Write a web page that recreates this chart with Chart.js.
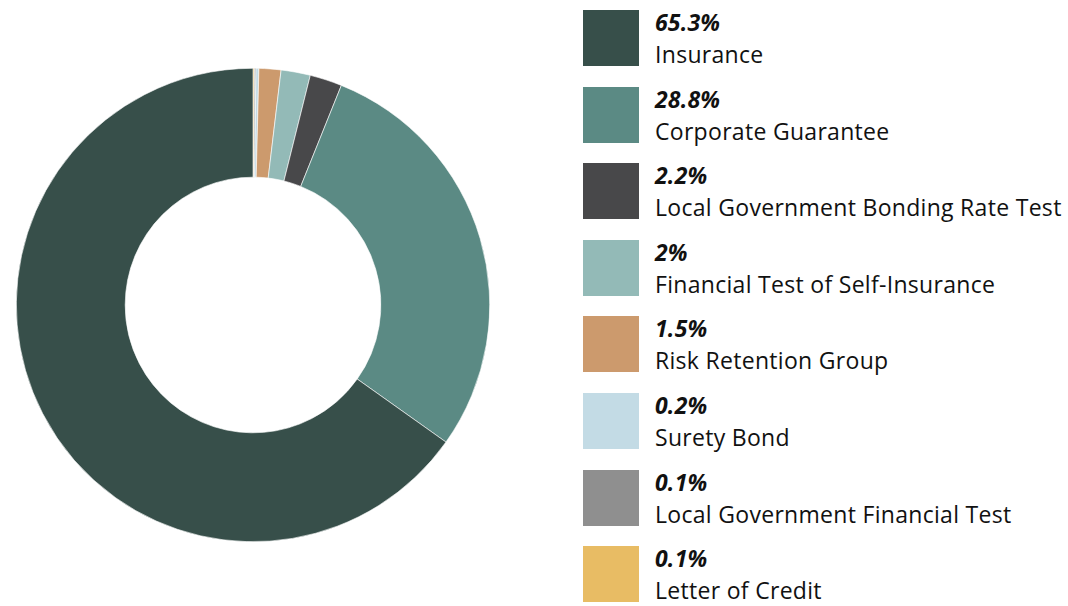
<!DOCTYPE html>
<html>
<head>
<meta charset="utf-8">
<script src="https://cdn.jsdelivr.net/npm/chart.js@4"></script>
<style>
  html, body { margin: 0; padding: 0; background: #fff; }
  body { width: 1068px; height: 606px; position: relative; overflow: hidden; font-family: "Open Sans", sans-serif; }
  #chartBox { position: absolute; left: 16px; top: 68px; width: 474px; height: 474px; }
  #legend { position: absolute; left: 583px; top: 10px; }
  .item { position: absolute; left: 0; width: 480px; height: 56px; }
  .swatch { position: absolute; left: 0; top: 0; width: 56px; height: 56px; }
  .pct { position: absolute; left: 72px; top: -4px; font-size: 23px; font-weight: bold; font-style: italic; color: #111; white-space: nowrap; letter-spacing: 0.2px; }
  .name { position: absolute; left: 72px; top: 28px; font-size: 23px; color: #111; white-space: nowrap; letter-spacing: 0.3px; }
</style>
</head>
<body>
<div id="chartBox"><canvas id="mix"></canvas></div>
<div id="legend"></div>
<script>
// slice order goes clockwise from 12 o'clock
let labels = [
    "Letter of Credit",
    "Local Government Financial Test",
    "Surety Bond",
    "Risk Retention Group",
    "Financial Test of Self-Insurance",
    "Local Government Bonding Rate Test",
    "Corporate Guarantee",
    "Insurance"
];
let shares = [0.1, 0.1, 0.2, 1.5, 2, 2.2, 28.8, 65.3];
let colors = [
    "#e8bc64",
    "#8f8f8f",
    "#c3dbe5",
    "#cc9a6d",
    "#93bab7",
    "#48484a",
    "#5b8a84",
    "#374f4a"
];

let mixCanvas = document.getElementById('mix');
let mixChart = new Chart(mixCanvas, {
    type: "doughnut",
    data: {
        labels: labels,
        datasets: [{
            data: shares,
            backgroundColor: colors,
            borderColor: "#ffffff",
            borderWidth: 0.6
        }]
    },
    options: {
        responsive: true,
        maintainAspectRatio: false,
        animation: false,
        cutout: "54%",
        layout: { padding: 0 },
        plugins: {
            legend: { display: false },
            tooltip: { enabled: false }
        }
    }
});

// legend lists the biggest share first
let legendBox = document.getElementById('legend');
for (let i = labels.length - 1, row = 0; i >= 0; i--, row++) {
    let item = document.createElement('div');
    item.className = 'item';
    item.style.top = (row * 76.6) + 'px';
    item.innerHTML =
        '<div class="swatch" style="background:' + colors[i] + '"></div>' +
        '<div class="pct">' + shares[i] + '%</div>' +
        '<div class="name">' + labels[i] + '</div>';
    legendBox.appendChild(item);
}
</script>
</body>
</html>
